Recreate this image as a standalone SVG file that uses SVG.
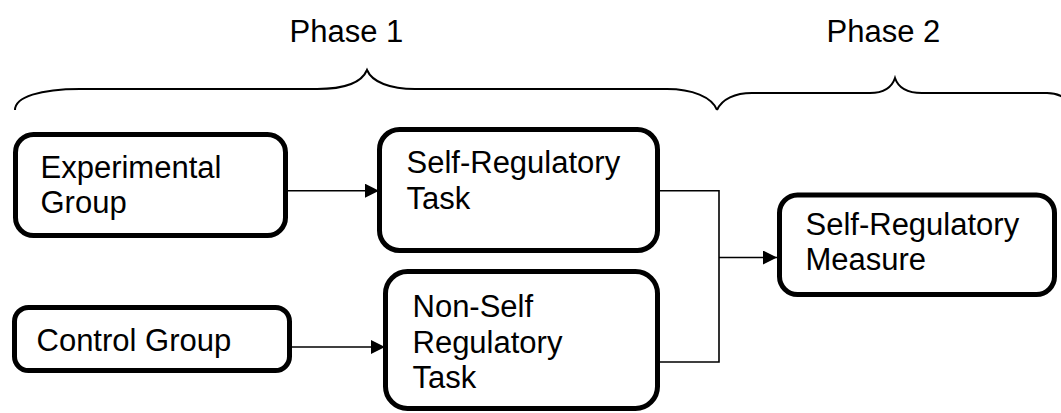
<svg xmlns="http://www.w3.org/2000/svg" width="1061" height="413" viewBox="0 0 1061 413">
  <style>
    .box { fill: #fff; stroke: #000; stroke-width: 5; }
    .lbl { font-family: "Liberation Sans", Arial, sans-serif; font-size: 31px; fill: #000; }
    .wire { fill: none; stroke: #000; stroke-width: 1.6; }
    .brace { fill: none; stroke: #000; stroke-width: 2; }
  </style>
  <defs>
    <marker id="arrow" viewBox="0 0 14 14" refX="14" refY="7" markerWidth="14" markerHeight="14" markerUnits="userSpaceOnUse" orient="auto">
      <path d="M0,0 L14,7 L0,14 Z" fill="#000"/>
    </marker>
  </defs>

  <rect width="1061" height="413" fill="#fff"/>

  <!-- phase headings and braces -->
  <g id="phases">
    <text class="lbl" x="289.5" y="42">Phase 1</text>
    <text class="lbl" x="826.5" y="42">Phase 2</text>
    <path class="brace" d="M15,110 C15,97 40,89 80,89 L317,89 C345,89 362,82 367,70 C372,82 390,89 415,89 L667,89 C692,89 712,97 717,110"/>
    <path class="brace" d="M717,110 C722,99 735,93 752,93 L870,93 C885,93 892,87 895,78 C898,87 905,93 922,93 L1047,93 C1058,93 1064,97 1070,103"/>
  </g>

  <!-- connectors -->
  <g id="connectors">
    <path class="wire" d="M288,190.7 L379,190.7" marker-end="url(#arrow)"/>
    <path class="wire" d="M292,347 L385,347" marker-end="url(#arrow)"/>
    <path class="wire" d="M660,190.7 L719,190.7 L719,362 L660,362"/>
    <path class="wire" d="M719,257.5 L777,257.5" marker-end="url(#arrow)"/>
  </g>

  <g id="experimental-group">
    <rect class="box" x="15.5" y="134.5" width="270" height="101" rx="18"/>
    <text class="lbl" x="40.5" y="178">Experimental</text>
    <text class="lbl" x="40.5" y="213">Group</text>
  </g>

  <g id="control-group">
    <rect class="box" x="14.5" y="307.5" width="275" height="63" rx="14"/>
    <text class="lbl" x="36.5" y="351">Control Group</text>
  </g>

  <g id="self-regulatory-task">
    <rect class="box" x="379.5" y="129.5" width="278" height="121" rx="20"/>
    <text class="lbl" x="406.5" y="173">Self-Regulatory</text>
    <text class="lbl" x="406.5" y="209">Task</text>
  </g>

  <g id="non-self-regulatory-task">
    <rect class="box" x="385.5" y="271.5" width="272" height="137" rx="22"/>
    <text class="lbl" x="412.5" y="317">Non-Self</text>
    <text class="lbl" x="412.5" y="353">Regulatory</text>
    <text class="lbl" x="412.5" y="388">Task</text>
  </g>

  <g id="self-regulatory-measure">
    <rect class="box" x="779.5" y="195" width="275" height="99.5" rx="18"/>
    <text class="lbl" x="805.5" y="235">Self-Regulatory</text>
    <text class="lbl" x="805.5" y="270">Measure</text>
  </g>
</svg>
